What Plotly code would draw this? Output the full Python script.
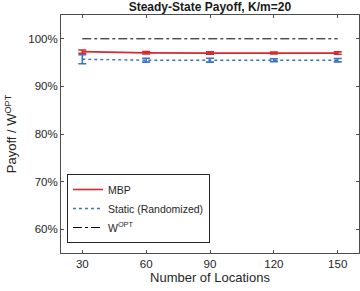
import plotly.graph_objects as go

locations = [30, 60, 90, 120, 150]
mbp = [97.3, 97.05, 97.0, 97.0, 97.0]
mbp_err = [0.35, 0.25, 0.25, 0.2, 0.25]
static = [95.7, 95.5, 95.5, 95.5, 95.5]
static_err = [0.95, 0.4, 0.4, 0.3, 0.35]
wopt = [100, 100, 100, 100, 100]

font = "Liberation Sans, Arial, sans-serif"
axcol = "#4d4d4d"

fig = go.Figure()
fig.add_trace(go.Scatter(
    x=locations, y=mbp, name="MBP", mode="lines",
    line=dict(color="#d62a2f", width=1.6),
    error_y=dict(type="data", array=mbp_err, color="#d62a2f", thickness=1.6, width=4)))
fig.add_trace(go.Scatter(
    x=locations, y=static, name="Static (Randomized)", mode="lines",
    line=dict(color="#3a72c4", width=1.4, dash="dot"),
    error_y=dict(type="data", array=static_err, color="#3a72c4", thickness=1.6, width=4)))
fig.add_trace(go.Scatter(
    x=locations, y=wopt, name="W<sup>OPT</sup>", mode="lines",
    line=dict(color="black", width=1, dash="dashdot")))

fig.update_layout(
    width=360, height=291,
    margin=dict(l=61, r=1, t=15, b=38),
    paper_bgcolor="white", plot_bgcolor="white",
    font=dict(family=font, size=12, color="#262626"),
    title=dict(text="<b>Steady-State Payoff, K/m=20</b>", x=0.583, xanchor="center",
               y=0.975, yanchor="middle", font=dict(size=12, color="#1a1a1a")),
    showlegend=True,
    legend=dict(x=0.02, y=0.042, xanchor="left", yanchor="bottom",
                bordercolor="#262626", borderwidth=1, bgcolor="white",
                font=dict(size=10.5, color="#262626"), tracegroupgap=0,
                itemwidth=30),
    xaxis=dict(range=[20, 160], tickvals=locations, ticks="inside", ticklen=3,
               tickcolor=axcol, showline=True, linecolor=axcol, mirror="ticks",
               showgrid=False, zeroline=False, tickfont=dict(size=11.5, color="#262626"),
               automargin=False,
               title=dict(text="Number of Locations", font=dict(size=13), standoff=2)),
    yaxis=dict(range=[55, 105], tickvals=[60, 70, 80, 90, 100],
               ticktext=["60%", "70%", "80%", "90%", "100%"], ticks="inside", ticklen=3,
               tickcolor=axcol, showline=True, linecolor=axcol, mirror="ticks",
               showgrid=False, zeroline=False, tickfont=dict(size=11.5, color="#262626"),
               automargin=False,
               title=dict(text="Payoff / W<sup>OPT</sup>", font=dict(size=13), standoff=8)),
)

fig.write_html("out.html", config={"displayModeBar": False},
               post_script="document.body.style.margin='0px';")
